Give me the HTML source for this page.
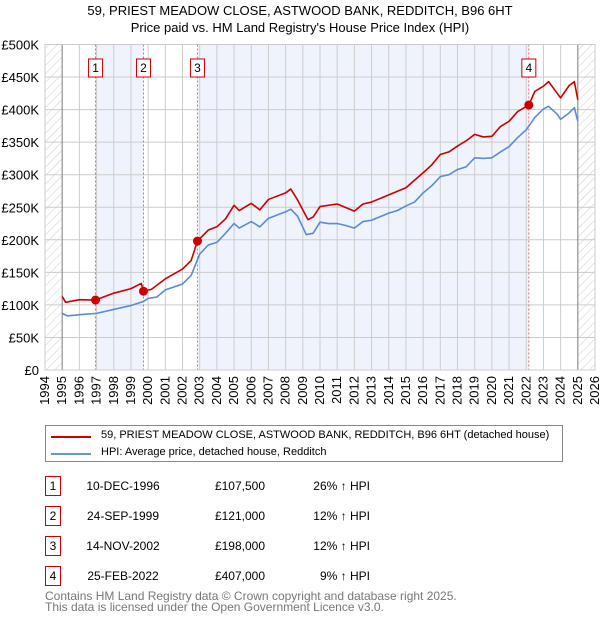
<!DOCTYPE html>
<html><head><meta charset="utf-8"><style>
body{margin:0;background:#fff;font-family:"Liberation Sans","DejaVu Sans",sans-serif;}
#wrap{position:relative;width:600px;height:620px;overflow:hidden;}
.t{position:absolute;font-size:12px;color:#000;white-space:nowrap;}
.lg{font-size:11px;}
.box{position:absolute;width:14px;height:18px;border:1px solid #c00;font-size:12px;text-align:center;line-height:18px;}
</style></head><body>
<div id="wrap">
<div class="t" style="left:0;width:600px;text-align:center;top:3px;font-size:13px;">59, PRIEST MEADOW CLOSE, ASTWOOD BANK, REDDITCH, B96 6HT</div>
<div class="t" style="left:0;width:600px;text-align:center;top:20px;font-size:13px;">Price paid vs. HM Land Registry's House Price Index (HPI)</div>
<svg id="chart" width="600" height="420" style="position:absolute;left:0;top:0;font-family:'Liberation Sans',sans-serif;">
<defs><pattern id="hatch" width="6" height="6" patternUnits="userSpaceOnUse" patternTransform="rotate(45)"><line x1="0" y1="0" x2="0" y2="6" stroke="#ccc" stroke-width="1"/></pattern></defs>
</svg>
<div style="position:absolute;left:45px;top:425px;width:516px;height:35px;border:1px solid #888;">
<div style="position:absolute;left:5px;top:10px;width:40px;height:2px;background:#c00"></div>
<div class="t lg" style="left:55px;top:3px;">59, PRIEST MEADOW CLOSE, ASTWOOD BANK, REDDITCH, B96 6HT (detached house)</div>
<div style="position:absolute;left:5px;top:27px;width:40px;height:2px;background:#6a96d0"></div>
<div class="t lg" style="left:55px;top:20px;">HPI: Average price, detached house, Redditch</div>
</div>
<div id="table"></div>
<div class="t" style="left:45px;top:589px;color:#777;">Contains HM Land Registry data © Crown copyright and database right 2025.</div>
<div class="t" style="left:45px;top:600px;color:#777;">This data is licensed under the Open Government Licence v3.0.</div>
</div>
<script>
const hpiYears=[1995,1995.3,1996,1997,1998,1999,1999.7,2000,2000.5,2001,2002,2002.5,2003,2003.5,2004,2004.5,2005,2005.3,2006,2006.5,2007,2008,2008.3,2008.7,2009.2,2009.6,2010,2010.5,2011,2011.5,2012,2012.5,2013,2014,2014.5,2015,2015.5,2016,2016.5,2017,2017.5,2018,2018.5,2019,2019.5,2020,2020.5,2021,2021.5,2022,2022.5,2023,2023.3,2023.8,2024,2024.5,2024.8,2025];
const hpiValues=[87,83,85,87,93,99,105,110,112,123,132,145,178,192,196,210,225,218,228,220,233,243,247,236,208,210,227,225,225,222,218,228,230,241,245,252,258,272,283,297,300,308,312,326,325,326,335,343,357,369,388,401,405,393,385,395,403,382];
const priceYears=[1995,1995.2,1996,1996.94,1998,1999,1999.6,1999.73,2000.2,2001,2002,2002.5,2002.87,2003.5,2004,2004.5,2005,2005.3,2006,2006.5,2007,2008,2008.3,2008.7,2009.3,2009.6,2010,2011,2012,2012.5,2013,2014,2015,2016,2016.5,2017,2017.5,2018,2018.5,2019,2019.5,2020,2020.5,2021,2021.5,2022.15,2022.5,2023,2023.3,2023.8,2024,2024.5,2024.8,2025];
const priceValues=[113,104,108,107.5,118,125,133,121,124,140,155,168,198,215,220,232,253,245,256,246,262,272,278,261,231,235,251,255,244,255,258,269,280,303,315,331,335,344,352,362,358,359,374,382,397,407,428,436,443,425,418,437,443,415];
const saleLabels=["1","2","3","4"];
const saleYears=[1996.94,1999.73,2002.87,2022.15];
const saleValues=[107.5,121,198,407];
const saleDates=["10-DEC-1996","24-SEP-1999","14-NOV-2002","25-FEB-2022"];
const salePrices=["£107,500","£121,000","£198,000","£407,000"];
const salePct=["26% ↑ HPI","12% ↑ HPI","12% ↑ HPI","9% ↑ HPI"];
const yTicks=[0,50,100,150,200,250,300,350,400,450,500];
const yTickLabels=["£0","£50K","£100K","£150K","£200K","£250K","£300K","£350K","£400K","£450K","£500K"];
const xTicks=[1994,1995,1996,1997,1998,1999,2000,2001,2002,2003,2004,2005,2006,2007,2008,2009,2010,2011,2012,2013,2014,2015,2016,2017,2018,2019,2020,2021,2022,2023,2024,2025,2026];

const X0=45,X1=595,Y0=370,Y1=44.5;
const xs=y=>X0+(y-1994)/(2026-1994)*(X1-X0);
const ys=v=>Y0-(v/500)*(Y0-Y1);
const svg=document.getElementById('chart');
const NS='http://www.w3.org/2000/svg';
function mk(tag,attrs){const e=document.createElementNS(NS,tag);for(const k in attrs)e.setAttribute(k,attrs[k]);svg.appendChild(e);return e;}
let e;
e=mk('rect',{x:X0,y:Y1,width:X1-X0,height:Y0-Y1,fill:'#fff'});


[[0,1],[2,3]].forEach((p,i)=>{
 const r=mk('rect',{x:xs(saleYears[p[0]]),y:Y1,width:xs(saleYears[p[1]])-xs(saleYears[p[0]]),height:Y0-Y1,fill:'#eef3fc'});
 
 
});
e=mk('rect',{x:X0,y:Y1,width:xs(1995)-X0,height:Y0-Y1,fill:'url(#hatch)'});


e=mk('rect',{x:xs(2025),y:Y1,width:X1-xs(2025),height:Y0-Y1,fill:'url(#hatch)'});


xTicks.forEach((t,i)=>{
 const l=mk('line',{x1:xs(t),x2:xs(t),y1:Y1,y2:Y0,stroke:'#ccc','stroke-width':1});
 
 
 const tx=mk('text',{x:0,y:0,'font-size':13,'text-anchor':'end',transform:`translate(${xs(t)+4},${Y0+6}) rotate(-90)`});
 tx.textContent=t;
 
 
});
yTicks.forEach((t,i)=>{
 const l=mk('line',{x1:X0,x2:X1,y1:ys(t),y2:ys(t),stroke:'#ccc','stroke-width':1});
 
 
 const tx=mk('text',{x:X0-6,y:ys(t)+5,'font-size':13,'text-anchor':'end'});
 tx.textContent=yTickLabels[i];
 
 
});
e=mk('line',{x1:xs(1995),x2:xs(1995),y1:Y1,y2:Y0,stroke:'#888','stroke-width':1});


e=mk('line',{x1:xs(2025),x2:xs(2025),y1:Y1,y2:Y0,stroke:'#888','stroke-width':1});


saleYears.forEach((s,i)=>{
 const l=mk('line',{x1:xs(s),x2:xs(s),y1:Y1,y2:Y0,stroke:'#e66','stroke-width':1,'stroke-dasharray':'2,2'});
 
 
 const r=mk('rect',{x:xs(s)-7,y:59,width:14,height:18,fill:'#fff',stroke:'#c00'});
 
 
 const tx=mk('text',{x:xs(s),y:72,'font-size':12,'text-anchor':'middle'});
 tx.textContent=saleLabels[i];
 
 
});
function line(xa,va,col,name){
 const p=mk('polyline',{points:xa.map((x,i)=>xs(x)+','+ys(va[i])).join(' '),fill:'none',stroke:col,'stroke-width':1.6,'stroke-linejoin':'round'});
 
 
}
line(hpiYears,hpiValues,'#5b8bd0','hpi-line');
line(priceYears,priceValues,'#c00','price-line');
saleYears.forEach((s,i)=>{
 const c=mk('circle',{cx:xs(s),cy:ys(saleValues[i]),r:4.5,fill:'#c00'});
 
 
});
e=mk('rect',{x:X0,y:Y1,width:X1-X0,height:Y0-Y1,fill:'none',stroke:'#ccc'});


const tb=document.getElementById('table');
saleLabels.forEach((l,i)=>{
 const top=476+i*30;
 const row=document.createElement('div');
 
 
 row.innerHTML=`<div class="box" style="left:45px;top:${top}px">${l}</div>
 <div class="t" style="left:70px;width:106px;text-align:center;top:${top+3}px">${saleDates[i]}</div>
 <div class="t" style="left:185px;width:80px;text-align:right;top:${top+3}px">${salePrices[i]}</div>
 <div class="t" style="left:290px;width:80px;text-align:right;top:${top+3}px">${salePct[i]}</div>`;
 tb.appendChild(row);
});
</script>
</body></html>
